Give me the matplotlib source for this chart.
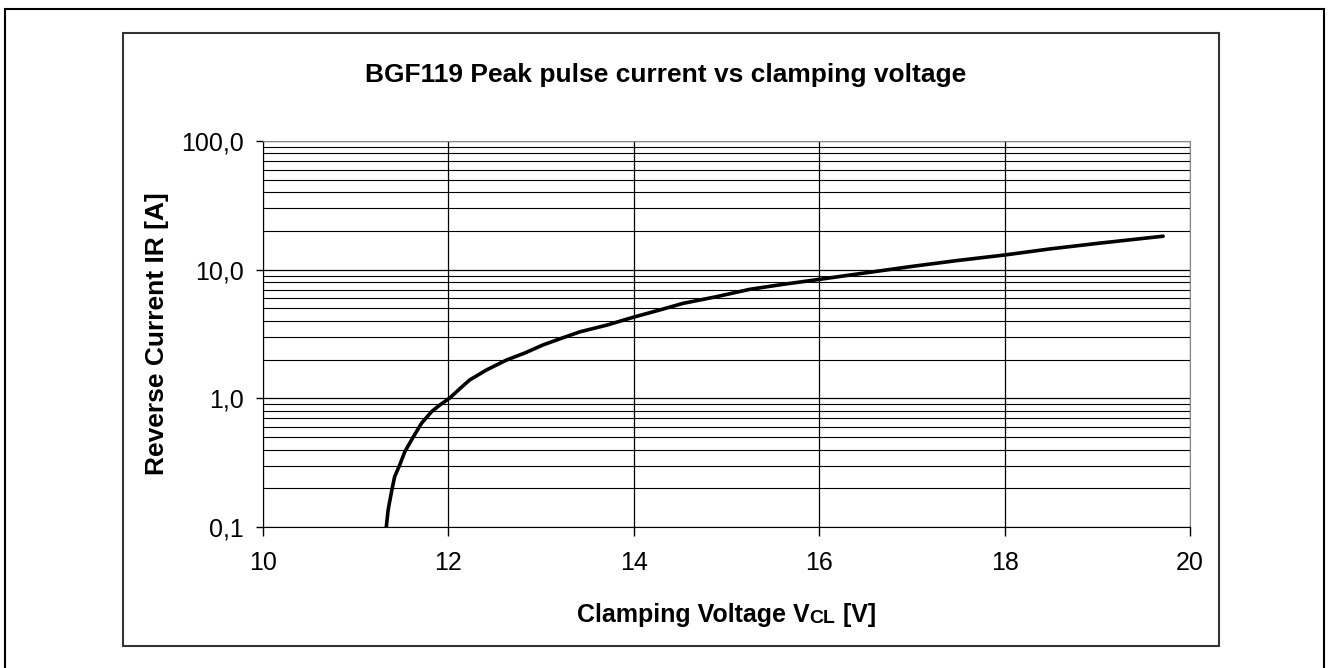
import numpy as np
import matplotlib.pyplot as plt
from matplotlib.patches import Rectangle
from matplotlib.ticker import FixedLocator, NullFormatter

# -----------------------------
# DATA
# -----------------------------
v_cl = [11.33, 11.35, 11.39, 11.42, 11.48, 11.53, 11.62, 11.71, 11.82, 11.91,
        12.01, 12.13, 12.23, 12.41, 12.63, 12.83, 13.02, 13.22, 13.42, 13.71,
        14.01, 14.28, 14.53, 14.89, 15.25, 15.61, 16.0, 16.33, 17.0, 17.5,
        18.0, 18.49, 19.0, 19.71]
i_r = [0.100, 0.136, 0.194, 0.246, 0.31, 0.385, 0.50, 0.64, 0.79, 0.89,
       1.00, 1.20, 1.39, 1.66, 1.99, 2.26, 2.60, 2.93, 3.29, 3.71,
       4.30, 4.86, 5.47, 6.16, 7.03, 7.69, 8.40, 9.08, 10.6, 11.8,
       13.0, 14.5, 16.0, 18.2]

x_ticks = [10, 12, 14, 16, 18, 20]
y_ticks = [0.1, 1, 10, 100]
y_tick_labels = ["0,1", "1,0", "10,0", "100,0"]

title = "BGF119 Peak pulse current vs clamping voltage"

plt.rcParams["font.family"] = ["Liberation Sans", "DejaVu Sans"]

W, H = 1329, 668
fig = plt.figure(figsize=(W / 100, H / 100), dpi=100)


# pixel coords -> figure fraction
def fx(px):
    return px / W


def fy(py):
    return 1 - py / H


# outer frame (bottom edge runs off the picture) + chart box
fig.patches.append(Rectangle((fx(5), fy(700)), fx(1324) - fx(5), fy(9) - fy(700),
                             transform=fig.transFigure, fill=False, lw=1.5, ec="black"))
fig.patches.append(Rectangle((fx(123), fy(646)), fx(1219) - fx(123), fy(33) - fy(646),
                             transform=fig.transFigure, fill=False, lw=1.5, ec="#333333"))

# plot area
ax = fig.add_axes([fx(263), fy(527), fx(1190) - fx(263), fy(141) - fy(527)])
ax.set_yscale("log")
ax.set_xlim(10, 20)
ax.set_ylim(0.1, 100)

ax.plot(v_cl, i_r, color="black", lw=2.6, solid_capstyle="round", solid_joinstyle="round")

ax.set_xticks(x_ticks)
ax.set_xticklabels([str(t) for t in x_ticks])
ax.yaxis.set_major_locator(FixedLocator(y_ticks))
ax.set_yticklabels(y_tick_labels)
minor = [m * d for d in (0.1, 1, 10) for m in range(2, 10)]
ax.yaxis.set_minor_locator(FixedLocator(minor))
ax.yaxis.set_minor_formatter(NullFormatter())

ax.grid(True, which="major", axis="both", color="black", lw=0.9)
ax.grid(True, which="minor", axis="y", color="black", lw=0.8)

ax.tick_params(axis="both", which="major", labelsize=18, width=1, color="black")
ax.tick_params(axis="y", which="major", length=5, pad=9)
ax.tick_params(axis="x", which="major", length=6.5, pad=11)
ax.tick_params(axis="y", which="minor", length=4, direction="in")

for s in ["top", "right"]:
    ax.spines[s].set_color("#888888")
for s in ["left", "bottom"]:
    ax.spines[s].set_color("black")

fig.text(fx(666), fy(75), title, fontsize=19, fontweight="bold", ha="center", va="center")

fig.text(fx(157), fy(334), "Reverse Current IR [A]", fontsize=19, fontweight="bold",
         ha="center", va="center", rotation=90)

# x label with the small "CL"
t1 = fig.text(fx(577), fy(622), "Clamping Voltage V", fontsize=18, fontweight="bold",
              ha="left", va="baseline")
t2 = ax.annotate("CL", xy=(1, 0), xycoords=t1, fontsize=14, fontweight="bold",
                 ha="left", va="bottom")
t3 = ax.annotate(" [V]", xy=(1, 0), xycoords=t2, fontsize=18, fontweight="bold",
                 ha="left", va="bottom")

fig.savefig("out.png", dpi=100)
